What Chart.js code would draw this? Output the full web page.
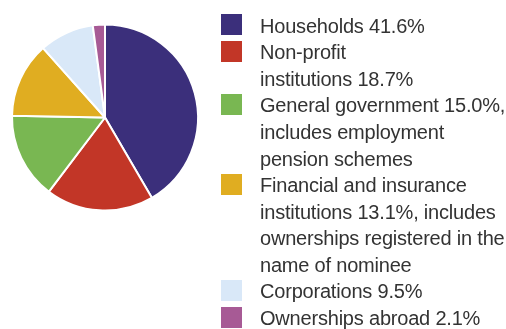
<!DOCTYPE html>
<html>
<head>
<meta charset="utf-8">
<script src="https://cdn.jsdelivr.net/npm/chart.js@4"></script>
<style>
  html, body { margin: 0; padding: 0; background: #fff; }
  #wrap { position: relative; width: 506px; height: 329px; overflow: hidden; }
  #pie { position: absolute; left: 0; top: 0; }
  #legend {
    position: absolute; left: 221px; top: 12.8px;
    font-family: "Liberation Sans", Arial, sans-serif;
    font-size: 20px; line-height: 26.55px; color: #333;
    letter-spacing: -0.2px;
    white-space: nowrap;
  }
  .item { position: relative; padding-left: 39px; }
  .swatch { position: absolute; left: 0; top: 1.7px; width: 21px; height: 21px; }
</style>
</head>
<body>
<div id="wrap">
  <canvas id="pie" width="506" height="329"></canvas>
  <div id="legend"></div>
</div>
<script>
// ownership shares, %
const owners = ["Households", "Non-profit institutions", "General government",
  "Financial and insurance institutions", "Corporations", "Ownerships abroad"];
const shares = [41.6, 18.7, 15.0, 13.1, 9.5, 2.1];
const colors = ["#3b2f7b", "#c23627", "#79b752", "#e0ad21", "#d9e8f8", "#a75a95"];

// legend text, one array per line; {v} gets the share
const legendLines = [
  ["Households {v}"],
  ["Non-profit", "institutions {v}"],
  ["General government {v},", "includes employment", "pension schemes"],
  ["Financial and insurance", "institutions {v}, includes", "ownerships registered in the", "name of nominee"],
  ["Corporations {v}"],
  ["Ownerships abroad {v}"]
];

new Chart(document.getElementById("pie"), {
  type: "pie",
  data: {
    labels: owners,
    datasets: [{
      data: shares,
      backgroundColor: colors,
      borderColor: "#ffffff",
      borderWidth: 2,
      radius: 93
    }]
  },
  options: {
    responsive: false,
    animation: false,
    layout: { padding: { left: 13, right: 309, top: 25, bottom: 119 } },
    plugins: { legend: { display: false }, tooltip: { enabled: false } }
  }
});

const legend = document.getElementById("legend");
legendLines.forEach((lines, i) => {
  const item = document.createElement("div");
  item.className = "item";
  const sw = document.createElement("span");
  sw.className = "swatch";
  sw.style.background = colors[i];
  item.appendChild(sw);
  lines.forEach(line => {
    const row = document.createElement("div");
    row.textContent = line.replace("{v}", shares[i].toFixed(1) + "%");
    item.appendChild(row);
  });
  legend.appendChild(item);
});
</script>
</body>
</html>
